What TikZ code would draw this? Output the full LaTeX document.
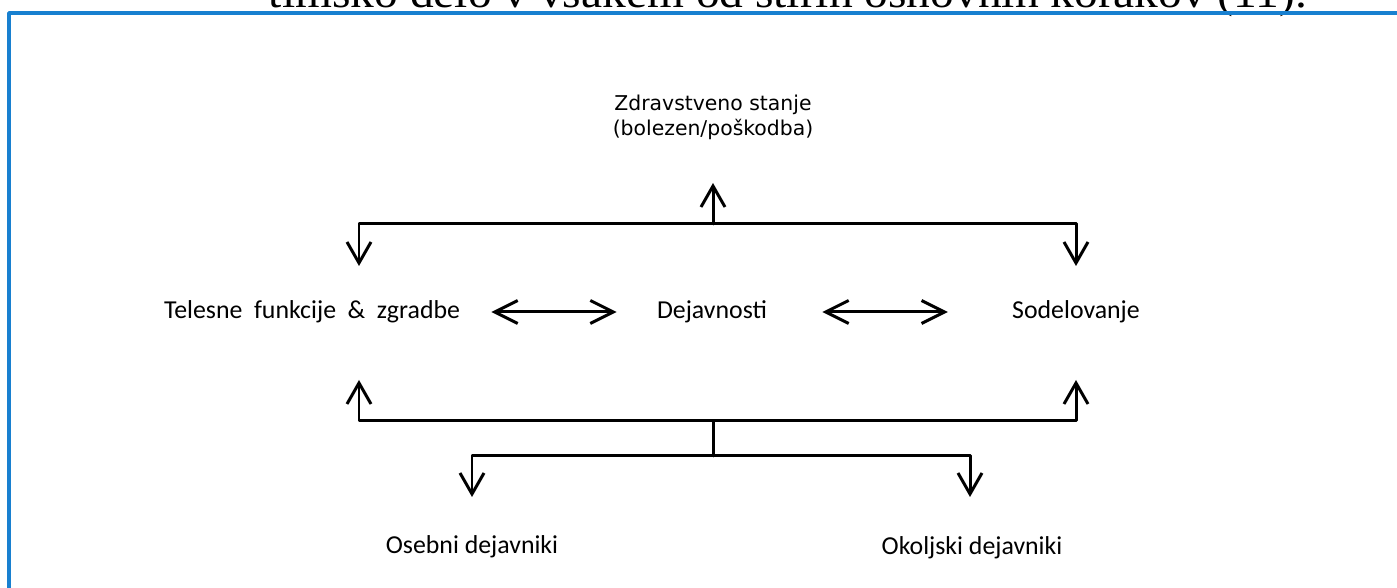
\documentclass[tikz,border=0pt]{standalone}
\usepackage{fontspec}
\setmainfont{Carlito}
\newfontfamily\verdanaish{DejaVu Sans}
\newfontfamily\timesish{Liberation Serif}
\usetikzlibrary{arrows.meta}
\definecolor{framebl}{RGB}{24,128,208}

\begin{document}
\begin{tikzpicture}[line cap=round,line join=round,
    lbl/.style={font=\fontsize{14.7}{17}\selectfont,inner sep=0pt},
    barb/.style={line width=1.7pt,-{Straight Barb[length=0.42cm,width=0.48cm]}},
    dbl/.style={line width=1.7pt,{Straight Barb[length=0.46cm,width=0.46cm]}-{Straight Barb[length=0.46cm,width=0.46cm]}}]
    \useasboundingbox (0,0) rectangle (27.94,11.76);
    % page line (cut at the top) and frame
    \begin{scope}
        \clip (0,0) rectangle (27.94,11.76);
        \node[anchor=base,inner sep=0pt,font=\timesish\fontsize{25}{30}\selectfont] (cut) at (15.76,11.61) {\scalebox{1.08}[1]{timsko delo v vsakem od štirih osnovnih korakov (11).}};
    \end{scope}
    \draw[framebl,line width=2pt,line cap=butt] (0.18,0) -- (0.18,11.5) -- (27.94,11.5);
    % components
    \node[lbl,font=\verdanaish\fontsize{11.6}{14.2}\selectfont,align=center] (health) at (14.26,9.42) {Zdravstveno stanje\\(bolezen/poškodba)};
    \node[lbl] (body) at (6.24,5.52) {\spaceskip=0.45em Telesne funkcije \& zgradbe};
    \node[lbl] (act) at (14.24,5.52) {Dejavnosti};
    \node[lbl] (part) at (21.52,5.52) {Sodelovanje};
    \node[lbl] (pers) at (9.44,0.82) {Osebni dejavniki};
    \node[lbl] (env) at (19.44,0.80) {Okoljski dejavniki};
    % upper bar
    \coordinate (up) at (14.26,7.28);
    \coordinate (uph) at (14.26,8.1);
    \coordinate (upb) at (7.18,6.44);
    \coordinate (upp) at (21.52,6.44);
    \draw[barb] (up) -- (uph);
    \draw[barb] (up) -| (upb);
    \draw[barb] (up) -| (upp);
    \draw[dbl,shorten <=0.62cm,shorten >=0.80cm] (body.east) -- (act.west);
    \draw[dbl,shorten <=1.1cm,shorten >=1.28cm] (act.east) -- (part.west);
    % lower bar
    \coordinate (lo) at (14.26,3.34);
    \coordinate (lob) at (7.18,4.16);
    \coordinate (lop) at (21.52,4.16);
    \coordinate (mid) at (14.26,2.64);
    \coordinate (mper) at (9.44,1.82);
    \coordinate (menv) at (19.4,1.82);
    \draw[barb] (lo) -| (lob);
    \draw[barb] (lo) -| (lop);
    \draw[line width=1.7pt] (lo) -- (mid);
    \draw[barb] (mid) -| (mper);
    \draw[barb] (mid) -| (menv);
\end{tikzpicture}
\end{document}
